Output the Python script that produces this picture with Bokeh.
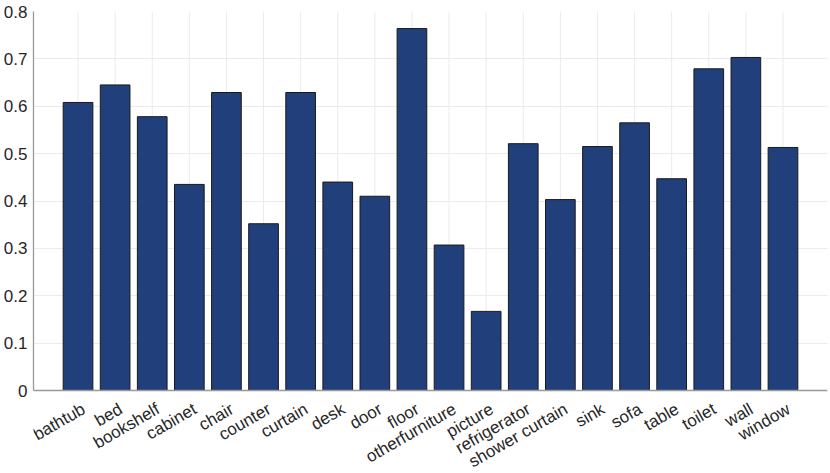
from bokeh.plotting import figure
from bokeh.models import FactorRange, Range1d, FixedTicker, ColumnDataSource, Span
from bokeh.embed import file_html
from bokeh.resources import INLINE
from bokeh.core.properties import value

categories = ["bathtub", "bed", "bookshelf", "cabinet", "chair", "counter", "curtain",
              "desk", "door", "floor", "otherfurniture", "picture", "refrigerator",
              "shower curtain", "sink", "sofa", "table", "toilet", "wall", "window"]
values = [0.608, 0.645, 0.578, 0.435, 0.629, 0.352, 0.629, 0.440, 0.410, 0.764,
          0.307, 0.167, 0.521, 0.403, 0.515, 0.565, 0.447, 0.679, 0.703, 0.513]
y_ticks = [0, 0.1, 0.2, 0.3, 0.4, 0.5, 0.6, 0.7, 0.8]
y_min, y_max = 0.0, 0.8

n = len(categories)
src = ColumnDataSource(data=dict(cat=categories, val=values,
                                 base=[y_min] * n, top=[y_max] * n))

# frame extends below y=0 so the rotated category labels can be drawn inside it
frame_h = 473 - 11 - 3
px_per_unit = (390 - 11) / (y_max - y_min)
y_lo = y_max - frame_h / px_per_unit

p = figure(width=830, height=473, output_backend="svg", toolbar_location=None,
           x_range=FactorRange(factors=categories, range_padding=0.07, range_padding_units="percent"),
           y_range=Range1d(y_lo, y_max), x_axis_location=None,
           min_border_left=32, min_border_right=3, min_border_top=11, min_border_bottom=3)
p.outline_line_color = None
p.xgrid.grid_line_color = None

# vertical grid lines at each category, limited to the data area
p.segment(x0="cat", y0="base", x1="cat", y1="top", source=src,
          line_color="#ebebeb", line_width=1)

p.vbar(x="cat", top="val", bottom="base", width=0.8, source=src,
       fill_color="#213f7a", line_color="#1a1a1a", line_width=1)

# x axis line at y = 0
p.add_layout(Span(location=y_min, dimension="width", line_color="#999999", line_width=1.3))

# category labels, rotated 30 degrees
p.text(x="cat", y="base", text="cat", source=src, angle=30, angle_units="deg",
       text_align="right", text_baseline="top", x_offset=1, y_offset=9,
       text_font=value("Liberation Sans"), text_font_size="17px", text_color="#262626")

yax = p.yaxis[0]
yax.ticker = FixedTicker(ticks=y_ticks)
yax.bounds = (y_min, y_max)
yax.major_label_overrides = {0: "0"}
yax.axis_line_color = "#999999"
yax.axis_line_width = 1.3
yax.major_tick_line_color = None
yax.minor_tick_line_color = None
yax.major_tick_out = 0
yax.major_tick_in = 0
yax.major_label_text_font = "Liberation Sans"
yax.major_label_text_font_size = "17px"
yax.major_label_text_color = "#262626"
yax.major_label_standoff = 6

p.ygrid.grid_line_color = "#ebebeb"

open("out.html", "w").write(file_html(p, INLINE))
